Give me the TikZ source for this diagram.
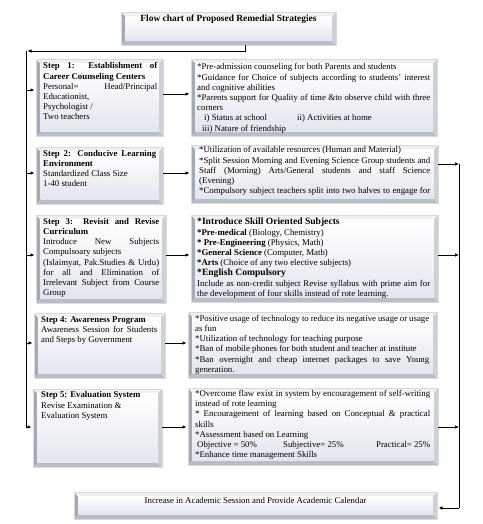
\documentclass[tikz,border=0pt]{standalone}
\usepackage{fontspec}
\setmainfont{Liberation Serif}
\usetikzlibrary{arrows.meta,shadows}

\definecolor{bevleft}{RGB}{165,170,182}
\definecolor{bevbot}{RGB}{185,189,198}
\definecolor{bevright}{RGB}{205,208,215}
\definecolor{bevtop}{RGB}{238,240,244}
\definecolor{bevin}{RGB}{226,230,238}

\tikzset{
	box/.style={anchor=north west, inner sep=0pt, outer sep=0pt, draw=black!15,
		fill=white, drop shadow={shadow xshift=0.6pt, shadow yshift=-1.4pt, fill=black!40},
		path picture={
			\fill[bevleft] (path picture bounding box.north west) -- ([shift={(4.5pt,-4.5pt)}]path picture bounding box.north west)
				-- ([shift={(4.5pt,4.5pt)}]path picture bounding box.south west) -- (path picture bounding box.south west) -- cycle;
			\fill[bevbot] (path picture bounding box.south west) -- ([shift={(4.5pt,4.5pt)}]path picture bounding box.south west)
				-- ([shift={(-4.5pt,4.5pt)}]path picture bounding box.south east) -- (path picture bounding box.south east) -- cycle;
			\fill[bevright] (path picture bounding box.south east) -- ([shift={(-4.5pt,4.5pt)}]path picture bounding box.south east)
				-- ([shift={(-4.5pt,-4.5pt)}]path picture bounding box.north east) -- (path picture bounding box.north east) -- cycle;
			\fill[bevtop] (path picture bounding box.north east) -- ([shift={(-4.5pt,-4.5pt)}]path picture bounding box.north east)
				-- ([shift={(4.5pt,-4.5pt)}]path picture bounding box.north west) -- (path picture bounding box.north west) -- cycle;
			\shade[top color=white, bottom color=bevin] ([shift={(4.5pt,-4.5pt)}]path picture bounding box.north west)
				rectangle ([shift={(-4.5pt,4.5pt)}]path picture bounding box.south east);
		}},
	txt/.style={anchor=north west, inner sep=0pt, align=justify, font=\fontsize{8.8}{10.2}\selectfont},
	line/.style={line width=0.9pt},
	arr/.style={line width=0.9pt, -{Latex[length=4pt,width=3.6pt]}, shorten >=1.5pt}
}

\begin{document}
\begin{tikzpicture}[x=1pt,y=-1pt]
	\useasboundingbox (0,0) rectangle (482,524);

	%boxes
	\node[box, minimum width=215pt, minimum height=33pt] (title) at (121,12) {};
	%
	\node[box, minimum width=127pt, minimum height=77pt] (s1) at (36,59) {};
	\node[box, minimum width=246pt, minimum height=77pt] (r1) at (191,59) {};
	%
	\node[box, minimum width=127pt, minimum height=57pt] (s2) at (36,147) {};
	\node[box, minimum width=247pt, minimum height=58pt] (r2) at (191,145) {};
	%
	\node[box, minimum width=130pt, minimum height=88pt] (s3) at (36,215) {};
	\node[box, minimum width=247pt, minimum height=87pt] (r3) at (191,215) {};
	%
	\node[box, minimum width=131pt, minimum height=65pt] (s4) at (34,313) {};
	\node[box, minimum width=249pt, minimum height=66pt] (r4) at (188,312) {};
	%
	\node[box, minimum width=129pt, minimum height=78pt] (s5) at (33,389) {};
	\node[box, minimum width=250pt, minimum height=77pt] (r5) at (188,388) {};
	%
	\node[box, minimum width=363pt, minimum height=27pt] (calendar) at (74,492) {};

	%inner labels
	\node[font=\fontsize{9.4}{10}\selectfont\bfseries] (titletxt) at (228.5,19.5) {Flow chart of Proposed Remedial Strategies};
	%
	\node[txt, text width=114pt] (s1txt) at (43,62.5) {\bfseries Step 1: Establishment of\linebreak Career Counseling Centers\\
		\mdseries Personal= \hfill Head/Principal\\ Educationist,\\ Psychologist /\\ Two teachers};
	\node[txt, text width=233pt] (r1txt) at (197,63.5) {*Pre-admission counseling for both Parents and students\\{}
		*Guidance for Choice of subjects according to students' interest\linebreak and cognitive abilities\\{}
		*Parents support for Quality of time \&to observe child with three\linebreak corners\\
		\makebox[100pt][l]{\hspace*{7pt}i) Status at school}ii) Activities at home\\
		\hspace*{5pt}iii) Nature of friendship};
	%
	\node[txt, text width=113pt] (s2txt) at (43,150) {\bfseries Step 2: Conducive Learning\linebreak Environment\\
		\mdseries Standardized Class Size\\ 1-40 student};
	\node[txt, text width=231pt] (r2txt) at (199,146.5) {*Utilization of available resources (Human and Material)\\{}
		*Split Session Morning and Evening Science Group students and\linebreak
		Staff (Morning) Arts/General students and staff Science\linebreak (Evening)\\{}
		*Compulsory subject teachers split into two halves to engage for\linebreak};
	%
	\node[txt, text width=116pt] (s3txt) at (43,218) {\bfseries Step 3: Revisit and Revise\linebreak Curriculum\\
		\mdseries Introduce New Subjects\linebreak Compulsoary subjects\\
		(Islaimyat, Pak.Studies \& Urdu)\linebreak for all and Elimination of\linebreak
		Irrelevant Subject from Course\linebreak Group};
	\node[txt, text width=233pt] (r3txt) at (197,218) {{\fontsize{9.6}{10}\selectfont\bfseries *Introduce Skill Oriented Subjects}\\{}
		\textbf{*Pre-medical} (Biology, Chemistry)\\{}
		\textbf{* Pre-Engineering} (Physics, Math)\\{}
		\textbf{*General Science} (Computer, Math)\\{}
		\textbf{*Arts} (Choice of any two elective subjects)\\{}
		{\fontsize{9.6}{10}\selectfont\bfseries *English Compulsory}\\
		Include as non-credit subject Revise syllabus with prime aim for\linebreak
		the development of four skills instead of rote learning.};
	%
	\node[txt, text width=116pt] (s4txt) at (41,316.5) {\bfseries Step 4: Awareness Program\\
		\mdseries Awareness Session for Students\linebreak and Steps by Government};
	\node[txt, text width=234pt] (r4txt) at (195,315) {*Positive usage of technology to reduce its negative usage or usage\linebreak as fun\\{}
		*Utilization of technology for teaching purpose\\{}
		*Ban of mobile phones for both student and teacher at institute\\{}
		*Ban overnight and cheap internet packages to save Young\linebreak generation.};
	%
	\node[txt, text width=116pt] (s5txt) at (41,391.5) {\bfseries Step 5: Evaluation System\\
		\mdseries Revise Examination \&\\ Evaluation System};
	\node[txt, text width=235pt] (r5txt) at (195,390) {*Overcome flaw exist in system by encouragement of self-writing\linebreak instead of rote learning\\{}
		* Encouragement of learning based on Conceptual \& practical\linebreak skills\\{}
		*Assessment based on Learning\\
		\makebox[88pt][l]{\hspace*{2pt}Objective = 50\%}Subjective= 25\%\hfill Practical= 25\%\\{}
		*Enhance time management Skills};
	%
	\node[font=\fontsize{8.8}{10}\selectfont] (calendartxt) at (255.5,500.5) {Increase in Academic Session and Provide Academic Calendar};

	%connector points
	\coordinate (tq) at (245,45);
	\coordinate (sp0) at (26,51);
	\coordinate (y1) at (26,90);
	\coordinate (m1) at (26,94);
	\coordinate (y2) at (26,173);
	\coordinate (y3) at (26,255);
	\coordinate (y4) at (26,343);
	\coordinate (y5) at (26,427);
	\coordinate (q2) at (459,164);
	\coordinate (q6) at (459,508);

	%arrows
	\draw[arr] (tq) |- (sp0);
	\draw[line] (sp0) -- (y5);
	%
	\draw[arr] (y1) -- (y1 -| s1.west);
	\draw[arr] (y2) -- (y2 -| s2.west);
	\draw[arr] (y3) -- (y3 -| s3.west);
	\draw[arr] (y4) -- (y4 -| s4.west);
	\draw[arr] (y5) -- (y5 -| s5.west);
	%
	\draw[arr] (m1 -| s1.east) -- (m1 -| r1.west);
	\draw[arr] (y2 -| s2.east) -- (y2 -| r2.west);
	\draw[arr] (y3 -| s3.east) -- (y3 -| r3.west);
	\draw[arr] (y4 -| s4.east) -- (y4 -| r4.west);
	\draw[arr] (y5 -| s5.east) -- (y5 -| r5.west);
	%
	\draw[arr, shorten >=0pt] (q2 -| r2.east) -- (q2);
	\draw[arr, shorten >=0pt] (y3 -| r3.east) -- (y3 -| q2);
	\draw[arr, shorten >=0pt] (y5 -| r5.east) -- (y5 -| q2);
	\draw[line] (q2) -- (q6);
	\draw[arr] (q6) -- (q6 -| calendar.east);
\end{tikzpicture}
\end{document}
